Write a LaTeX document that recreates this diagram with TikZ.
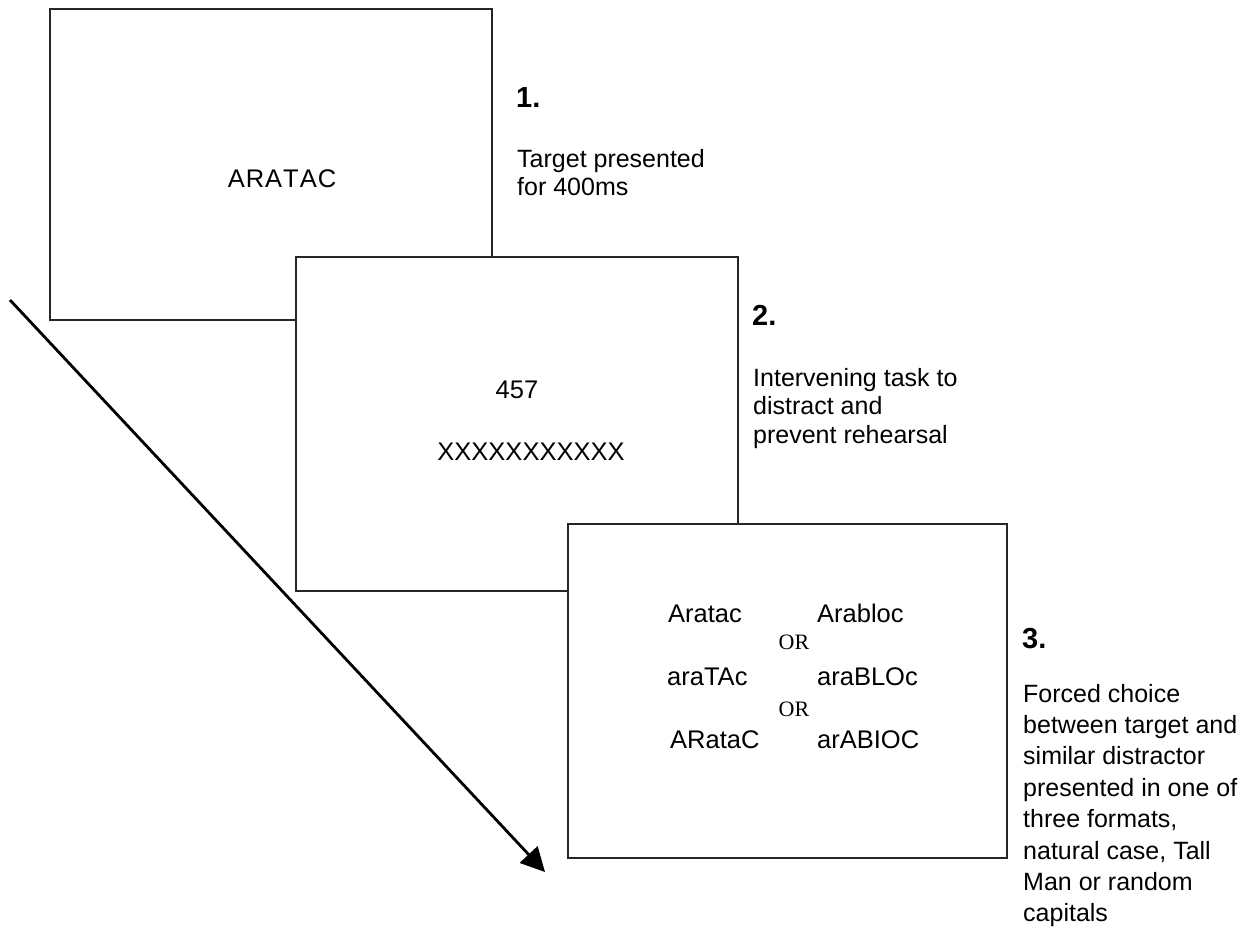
\documentclass[tikz,border=0pt]{standalone}
\usepackage{fontspec}
\setmainfont{Liberation Sans}
\newfontfamily\orserif{Liberation Serif}
\usetikzlibrary{arrows.meta}
\tikzset{
  screen/.style={draw=black!85, line width=1.3pt, fill=white, rectangle, inner sep=0pt, outer sep=0pt},
  stim/.style={font=\fontsize{25.5}{29}\selectfont, inner sep=0pt, anchor=base},
  stimw/.style={font=\fontsize{25.5}{29}\selectfont, inner sep=0pt, anchor=base west},
  orword/.style={font=\orserif\fontsize{22}{26}\selectfont, inner sep=0pt, anchor=base},
  stepnum/.style={font=\bfseries\fontsize{29}{32}\selectfont, inner sep=0pt, anchor=base west},
  steptext/.style={align=left, inner sep=0pt, anchor=base west},
  timearrow/.style={line width=2.8pt, -{Triangle[length=24pt,width=24pt]}}
}
\begin{document}
\begin{tikzpicture}[x=1pt,y=-1pt]
\useasboundingbox (0,0) rectangle (1251,930);
% screens
\node[screen, minimum width=442pt, minimum height=311pt] (s1) at (271,164.5) {};
\node[screen, minimum width=442pt, minimum height=334pt] (s2) at (517,424) {};
\node[screen, minimum width=439pt, minimum height=334pt] (s3) at (787.5,691) {};
% screen 1
\node[stim] (target) at (282,187) {A\kern1ptR\kern1ptA\kern1ptT\kern1ptA\kern1ptC};
% screen 2
\node[stim] (digits) at (517,398) {457};
\node[stim] (mask) at (531,460) {XXXXXXXXXXX};
% screen 3
\node[stimw] (w1a) at (668,622) {Aratac};
\node[stimw] (w1b) at (817,622) {Arabloc};
\node[orword] (or1) at (794,649) {OR};
\node[stimw] (w2a) at (667,685) {araTAc};
\node[stimw] (w2b) at (817,685) {araBLOc};
\node[orword] (or2) at (794,716) {OR};
\node[stimw] (w3a) at (670,748) {ARataC};
\node[stimw] (w3b) at (817,748) {arABIOC};
% step labels (base anchor = baseline of last line)
\node[stepnum] (n1) at (516,107) {1.};
\node[steptext, font=\fontsize{25}{28.5}\selectfont] (t1) at (517,195.5) {Target presented\\for 400ms};
\node[stepnum] (n2) at (752,325) {2.};
\node[steptext, font=\fontsize{25}{28.5}\selectfont] (t2) at (753,443) {Intervening task to\\distract and\\prevent rehearsal};
\node[stepnum] (n3) at (1022,648) {3.};
\node[steptext, font=\fontsize{25}{31.4}\selectfont] (t3) at (1023,921.8) {Forced choice\\between target and\\similar distractor\\presented in one of\\three formats,\\natural case, Tall\\Man or random\\capitals};
% time arrow
\coordinate (tstart) at (10,300);
\coordinate (tend) at (545,872);
\draw[timearrow] (tstart) -- (tend);
\end{tikzpicture}
\end{document}
